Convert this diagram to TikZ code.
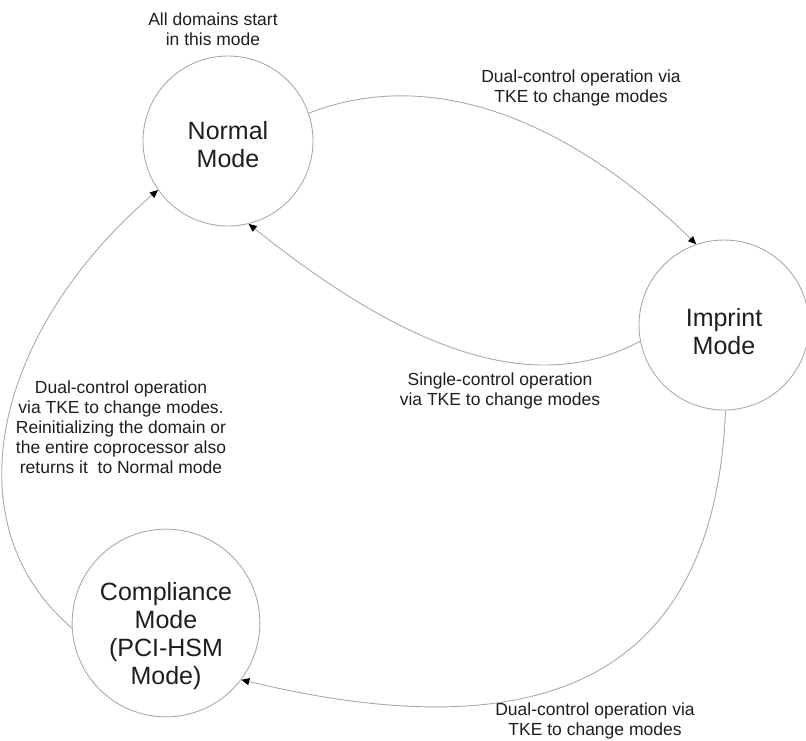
\documentclass[tikz,border=0pt]{standalone}
\usepackage{fontspec}
\setmainfont{Liberation Sans}
\usetikzlibrary{arrows.meta}
\definecolor{linegray}{RGB}{170,170,170}
\definecolor{textdark}{RGB}{30,30,30}
\tikzset{
  state/.style={circle, draw=linegray, line width=0.9pt, minimum size=170pt, inner sep=0pt,
    align=center, text=textdark, font=\fontsize{25}{28}\selectfont},
  lbl/.style={anchor=north, inner sep=0pt, align=center, text=textdark,
    font=\fontsize{17.5}{20}\selectfont},
  conn/.style={draw=linegray, line width=0.9pt,
    -{Triangle[length=8pt,width=7pt,fill=black,color=black]}}
}
\begin{document}
\begin{tikzpicture}[x=1pt,y=-1pt]
\useasboundingbox (0,0) rectangle (806,740);
\node[state] (normal) at (228,141) {\rule{0pt}{26pt}Normal\\Mode};
\node[state] (imprint) at (724,325) {\rule{0pt}{31pt}Imprint\\Mode};
\node[state] (compl) at (166,623) {\rule{0pt}{45pt}Compliance\\Mode\\(PCI-HSM\\Mode)};

\node[lbl] (lstart) at (213,12.5) {All domains start\\in this mode};
\node[lbl] (ltop) at (581,69.5) {Dual-control operation via\\TKE to change modes};
\node[lbl] (lsingle) at (500,372.5) {Single-control operation\\via TKE to change modes};
\node[lbl] (lleft) at (121,380.5) {Dual-control operation\\via TKE to change modes.\\Reinitializing the domain or\\the entire coprocessor also\\returns it\ \ to Normal mode};
\node[lbl] (lbottom) at (595,702.5) {Dual-control operation via\\TKE to change modes};

\draw[conn] (normal.19) .. controls (440,62) and (580,130) .. (imprint.109);
\draw[conn] (imprint.191) .. controls (530,400) and (400,345) .. (normal.284);
\draw[conn] (imprint.271) .. controls (715,670) and (554,755) .. (compl.323);
\draw[conn] (compl.183) .. controls (-51,523) and (-5,330) .. (normal.215);
\end{tikzpicture}
\end{document}
